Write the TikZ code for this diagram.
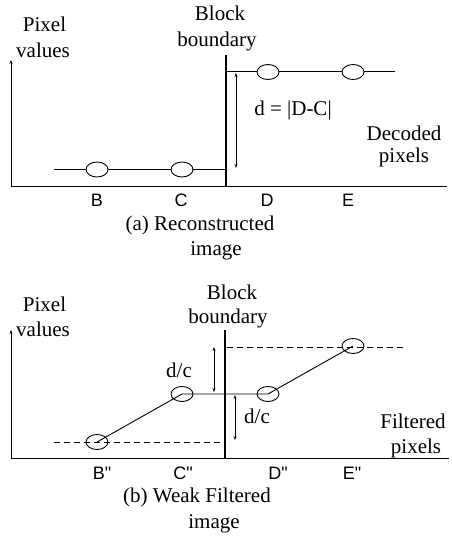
\documentclass[tikz,border=0pt]{standalone}
\usepackage{fontspec}
\setmainfont{Liberation Serif}
\newfontfamily\labsans{Liberation Sans}
\usetikzlibrary{arrows.meta,shapes.geometric}
\tikzset{
  txt/.style={font=\fontsize{21}{25}\selectfont, anchor=base, inner sep=0pt},
  ptlab/.style={font=\labsans\fontsize{18}{21}\selectfont, anchor=base, inner sep=0pt},
  pix/.style={draw, ellipse, line width=0.9pt, minimum width=22pt, minimum height=15pt, inner sep=0pt},
  pixw/.style={pix, fill=white},
  ln/.style={line width=0.9pt},
  axis/.style={line width=0.9pt},
  bound/.style={line width=2.4pt},
  dsh/.style={line width=0.9pt, dash pattern=on 6pt off 4pt},
  meas/.style={line width=0.6pt, {Stealth[length=4pt,width=3pt]}-{Stealth[length=4pt,width=3pt]}},
  yax/.style={line width=0.9pt, -{Stealth[length=4pt,width=3pt]}}
}
\begin{document}
\begin{tikzpicture}[x=1pt,y=-1pt]
\useasboundingbox (0,0) rectangle (451,537);
% ---------------- panel (a) ----------------
\coordinate (a0) at (11,186);
\coordinate (ay) at (11,60);
\coordinate (ax) at (447,186);
\draw[axis] (a0) -- (ax);
\draw[yax] (a0) -- (ay);
\coordinate (abt) at (226,55);
\coordinate (abb) at (226,186);
\draw[bound] (abt) -- (abb);
\coordinate (al0) at (54,169.5);
\coordinate (al1) at (225,169.5);
\coordinate (au0) at (227,71);
\coordinate (au1) at (395,71);
\draw[ln] (al0) -- (al1);
\draw[ln] (au0) -- (au1);
\node[pixw] (B) at (97,169.5) {};
\node[pixw] (C) at (182,169.5) {};
\node[pixw] (D) at (268,72) {};
\node[pixw] (E) at (353,72) {};
\coordinate (am0) at (236,73);
\coordinate (am1) at (236,168);
\draw[meas] (am0) -- (am1);
\node[txt] (adc) at (293,116) {d = |D-C|};
\node[txt] (apix1) at (44.5,32) {Pixel};
\node[txt] (apix2) at (43,58) {values};
\node[txt] (abl1) at (220,21) {Block};
\node[txt] (abl2) at (217,47) {boundary};
\node[txt] (adec1) at (404,141) {Decoded};
\node[txt] (adec2) at (404,163) {pixels};
\node[ptlab] (lB) at (97,207) {B};
\node[ptlab] (lC) at (181,207) {C};
\node[ptlab] (lD) at (267,207) {D};
\node[ptlab] (lE) at (348,207) {E};
\node[txt] (acap1) at (200,230) {(a) Reconstructed};
\node[txt] (acap2) at (216,255) {image};
% ---------------- panel (b) ----------------
\coordinate (b0) at (11,458);
\coordinate (by) at (11,330);
\coordinate (bx) at (449,458);
\draw[axis] (b0) -- (bx);
\draw[yax] (b0) -- (by);
\coordinate (bbt) at (225,330);
\coordinate (bbb) at (225,458);
\draw[bound] (bbt) -- (bbb);
\coordinate (bd0) at (54,442);
\coordinate (bd1) at (224,442);
\coordinate (bd2) at (227,347);
\coordinate (bd3) at (404,347);
\draw[dsh] (bd0) -- (bd1);
\draw[dsh] (bd2) -- (bd3);
\node[pix] (B2) at (97,442) {};
\node[pix] (C2) at (182,394) {};
\node[pix] (D2) at (268,394) {};
\node[pix] (E2) at (353,346) {};
\draw[ln] (B2.center) -- (C2.center) -- (D2.center) -- (E2.center);
\coordinate (bm0) at (214,347);
\coordinate (bm1) at (214,392);
\draw[meas] (bm0) -- (bm1);
\coordinate (bm2) at (235,395);
\coordinate (bm3) at (235,440);
\draw[meas] (bm2) -- (bm3);
\node[txt] (bdc1) at (179,377) {d/c};
\node[txt] (bdc2) at (257,423) {d/c};
\node[txt] (bpix1) at (44.5,311) {Pixel};
\node[txt] (bpix2) at (43,336) {values};
\node[txt] (bbl1) at (232,299) {Block};
\node[txt] (bbl2) at (228,323) {boundary};
\node[txt] (bfil1) at (413,428) {Filtered};
\node[txt] (bfil2) at (416,453) {pixels};
\node[ptlab] (lB2) at (102,479) {B\symbol{34}};
\node[ptlab] (lC2) at (183,479) {C\symbol{34}};
\node[ptlab] (lD2) at (278,479) {D\symbol{34}};
\node[ptlab] (lE2) at (352,479) {E\symbol{34}};
\node[txt] (bcap1) at (197,502) {(b) Weak Filtered};
\node[txt] (bcap2) at (214,528) {image};
\end{tikzpicture}
\end{document}
